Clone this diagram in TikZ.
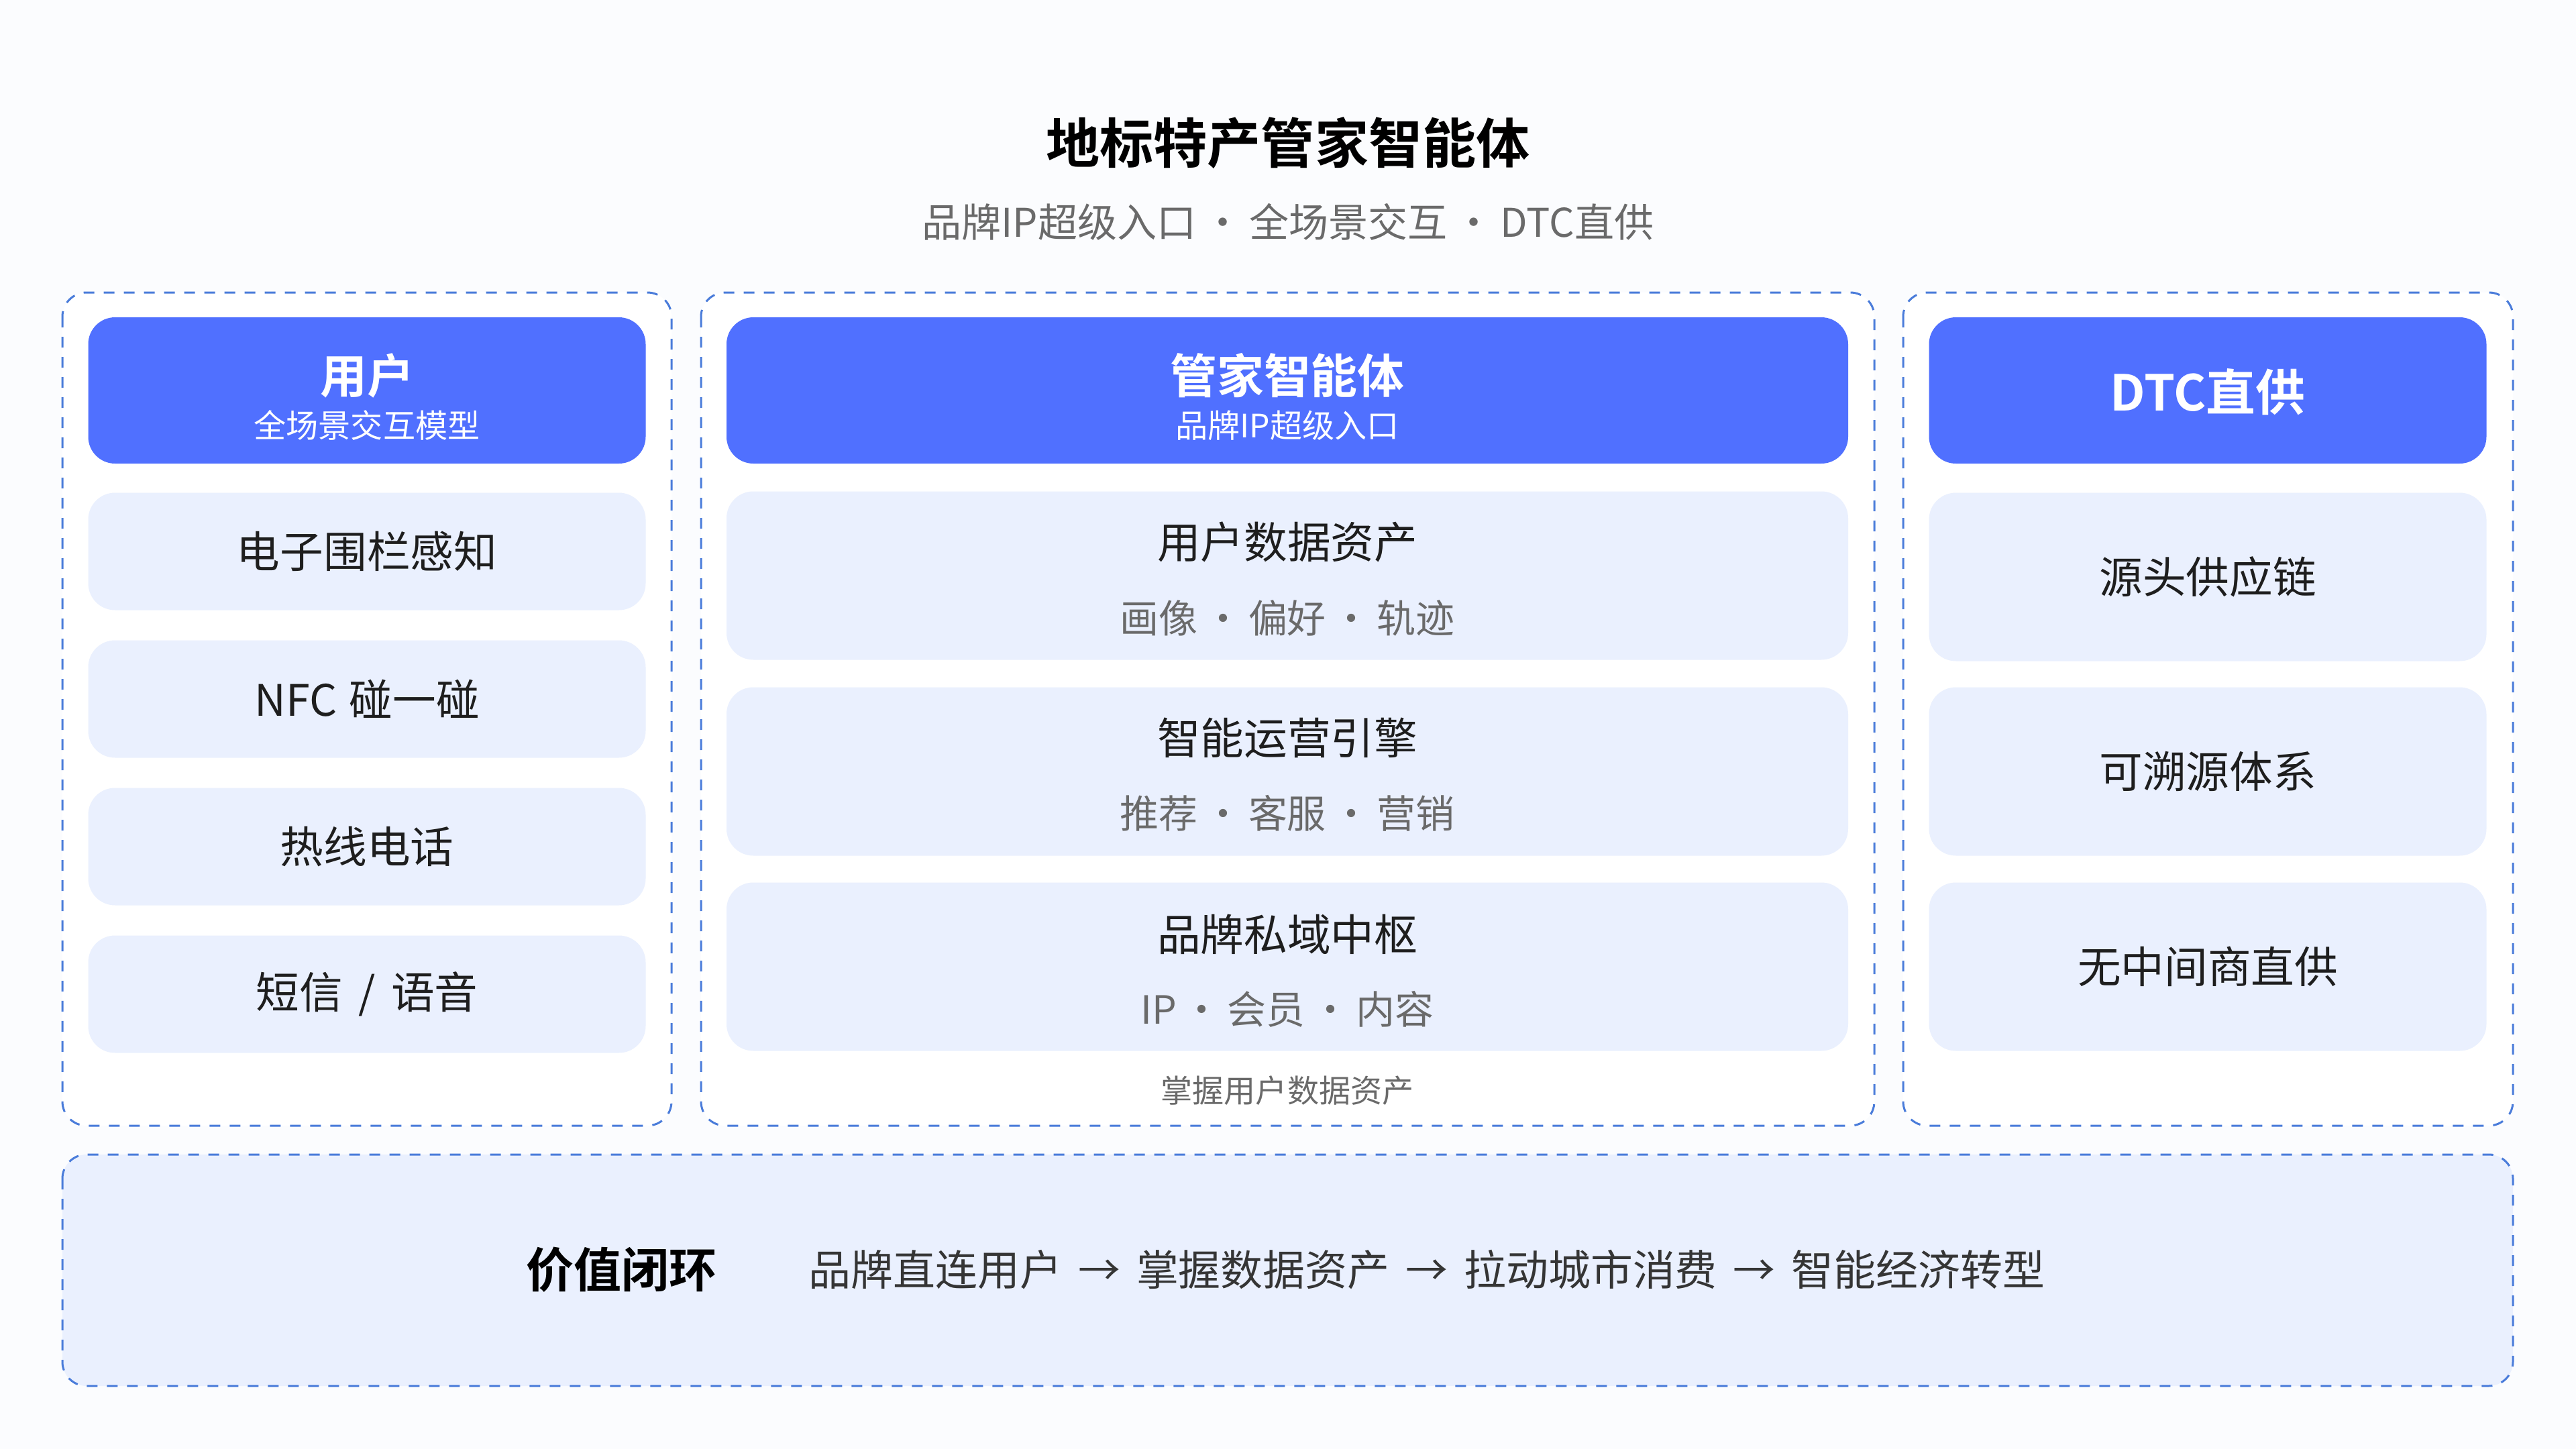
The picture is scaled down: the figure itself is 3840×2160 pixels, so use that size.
\documentclass[tikz,border=0pt]{standalone}
\usepackage{fontspec}
\setmainfont{Noto Sans CJK SC}[BoldFont={Noto Sans CJK SC Bold}]
\usetikzlibrary{positioning}

% Colours
\definecolor{pagebg}{HTML}{FBFCFE}
\definecolor{hdrblue}{HTML}{5070FF}
\definecolor{cellfill}{HTML}{EAF0FE}
\definecolor{dashblue}{HTML}{4A7CDA}
\definecolor{inkdark}{HTML}{1E1E1E}
\definecolor{inkgray}{HTML}{6A6A6A}

% Separators used inside the labels
\newcommand{\dotsep}{\hspace{0.9mm}·\hspace{0.9mm}}
\newcommand{\flowto}{\hspace{2.4mm}→\hspace{2.4mm}}

\begin{document}
\begin{tikzpicture}[
    x=0.1mm, y=-0.1mm, % one unit = one pixel of the 3840x2160 frame
    panel/.style={draw=dashblue, line width=0.3mm, dash pattern=on 1.6mm off 1.4mm,
        rounded corners=3.6mm, fill=white}, % dashed column frame
    header/.style={fill=hdrblue, rounded corners=4mm, minimum height=21.8mm,
        inner sep=0pt}, % blue column head
    cell/.style={fill=cellfill, rounded corners=4mm, inner sep=0pt,
        text=inkdark, font=\fontsize{18.4pt}{22pt}\selectfont}, % light box
    headtext/.style={text=white, inner sep=0pt, font=\fontsize{19.9pt}{24pt}\selectfont\bfseries},
    headsub/.style={text=white, inner sep=0pt, font=\fontsize{13.7pt}{16pt}\selectfont},
    itemtext/.style={text=inkdark, inner sep=0pt, font=\fontsize{18.4pt}{22pt}\selectfont},
    itemsub/.style={text=inkgray, inner sep=0pt, font=\fontsize{16.5pt}{20pt}\selectfont}
]

    % Page background
    \fill[pagebg] (0,0) rectangle (3840,2160);
    \useasboundingbox (0,0) rectangle (3840,2160);

    % Title and subtitle
    \node[inner sep=0pt, text=black, font=\fontsize{22.8pt}{27pt}\selectfont\bfseries]
        (title) at (1920,213) {地标特产管家智能体};
    \node[inner sep=0pt, text=inkgray, font=\fontsize{16.8pt}{20pt}\selectfont]
        (subtitle) at (1920,331) {品牌IP超级入口\hspace{1mm}·\hspace{1mm}全场景交互\hspace{1mm}·\hspace{1mm}DTC直供};

    % Column frames
    \draw[panel] (93,436) rectangle (1001,1678);   % users
    \draw[panel] (1045,436) rectangle (2794,1678); % agent
    \draw[panel] (2837,436) rectangle (3746,1678); % DTC

    % Left column: users
    \node[header, minimum width=83.1mm] (hdrUser) at (547,582) {};
    \node[headtext] (hdrUserT) at (547,560) {用户};
    \node[headsub] (hdrUserS) at (547,634) {全场景交互模型};
    \node[cell, minimum width=83.1mm, minimum height=17.5mm] (fence) at (547,822) {电子围栏感知};
    \node[cell, minimum width=83.1mm, minimum height=17.5mm] (nfc) at (547,1042) {NFC\hspace{0.4mm} 碰一碰};
    \node[cell, minimum width=83.1mm, minimum height=17.5mm] (hotline) at (547,1262) {热线电话};
    \node[cell, minimum width=83.1mm, minimum height=17.5mm] (sms) at (547,1482) {短信\hspace{0.9mm} / \hspace{0.9mm}语音};

    % Middle column: agent
    \node[header, minimum width=167.2mm] (hdrAgent) at (1919,582) {};
    \node[headtext] (hdrAgentT) at (1919,560) {管家智能体};
    \node[headsub] (hdrAgentS) at (1919,634) {品牌IP超级入口};
    \node[cell, minimum width=167.2mm, minimum height=25.1mm] (assets) at (1919,858) {};
    \node[itemtext] (assetsT) at (1919,808) {用户数据资产};
    \node[itemsub] (assetsS) at (1919,921) {画像\dotsep 偏好\dotsep 轨迹};
    \node[cell, minimum width=167.2mm, minimum height=25.1mm] (engine) at (1919,1150) {};
    \node[itemtext] (engineT) at (1919,1100) {智能运营引擎};
    \node[itemsub] (engineS) at (1919,1212) {推荐\dotsep 客服\dotsep 营销};
    \node[cell, minimum width=167.2mm, minimum height=25.1mm] (hub) at (1919,1441) {};
    \node[itemtext] (hubT) at (1919,1393) {品牌私域中枢};
    \node[itemsub] (hubS) at (1919,1504) {IP\dotsep 会员\dotsep 内容};
    \node[inner sep=0pt, text=inkgray, font=\fontsize{13.4pt}{16pt}\selectfont]
        (agentNote) at (1919,1626) {掌握用户数据资产};

    % Right column: DTC
    \node[header, minimum width=83.1mm] (hdrDtc) at (3291,582) {};
    \node[text=white, inner sep=0pt, font=\fontsize{21pt}{25pt}\selectfont\bfseries]
        (hdrDtcT) at (3291,584) {DTC直供};
    \node[cell, minimum width=83.1mm, minimum height=25.1mm] (source) at (3291,860) {源头供应链};
    \node[cell, minimum width=83.1mm, minimum height=25.1mm] (trace) at (3291,1150) {可溯源体系};
    \node[cell, minimum width=83.1mm, minimum height=25.1mm] (direct) at (3291,1441) {无中间商直供};

    % Bottom band: value loop
    \draw[panel, fill=cellfill] (93,1721) rectangle (3746,2066);
    \node[inner sep=0pt, text=black, font=\fontsize{20.2pt}{24pt}\selectfont\bfseries]
        (loopT) at (926,1893) {价值闭环};
    \node[inner sep=0pt, anchor=west, text=inkdark!90, font=\fontsize{17.9pt}{21pt}\selectfont]
        (loopFlow) at (1205,1893) {品牌直连用户\flowto 掌握数据资产\flowto 拉动城市消费\flowto 智能经济转型};

\end{tikzpicture}
\end{document}
